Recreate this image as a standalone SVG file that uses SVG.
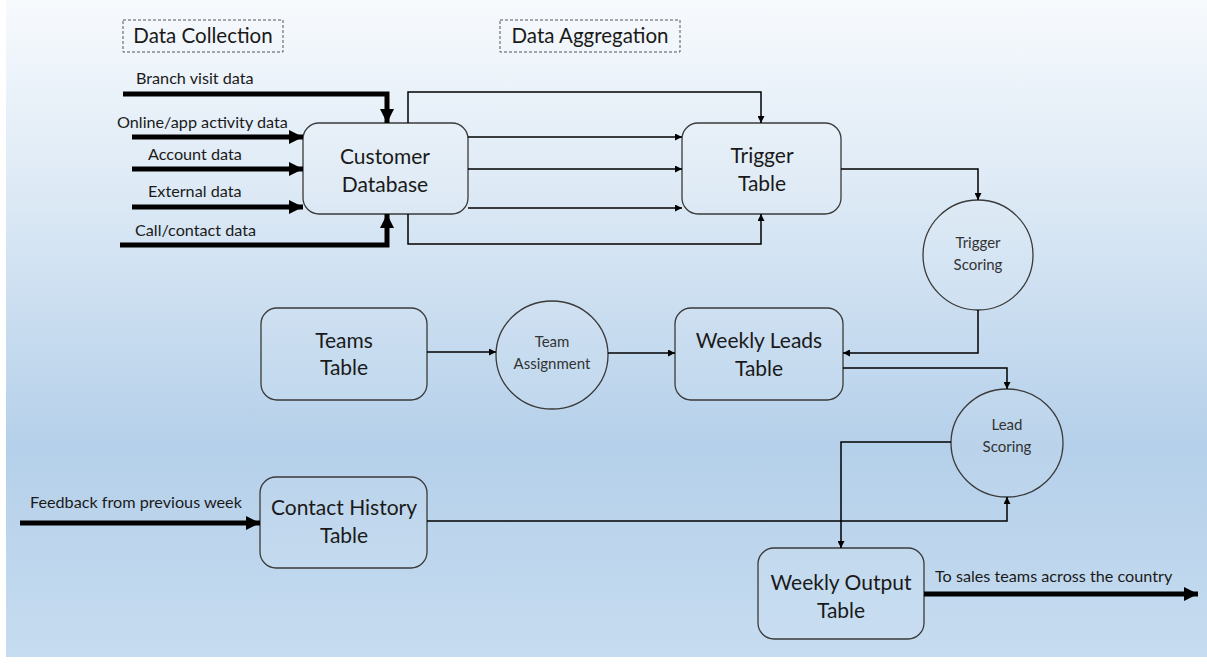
<svg xmlns="http://www.w3.org/2000/svg" width="1207" height="664" viewBox="0 0 1207 664">
<defs>
<linearGradient id="bg" x1="0" y1="0" x2="0" y2="1">
<stop offset="0" stop-color="#f7fafd"/>
<stop offset="0.3" stop-color="#dce9f5"/>
<stop offset="0.68" stop-color="#b5d0ea"/>
<stop offset="1" stop-color="#c6dcf0"/>
</linearGradient>
<marker id="a" viewBox="0 0 10 10" refX="10" refY="5" markerWidth="7" markerHeight="7" markerUnits="userSpaceOnUse" orient="auto"><path d="M0,0 L10,5 L0,10 z" fill="#000"/></marker>
<marker id="A" viewBox="0 0 10 10" refX="10" refY="5" markerWidth="14" markerHeight="14" markerUnits="userSpaceOnUse" orient="auto"><path d="M0,0 L10,5 L0,10 z" fill="#000"/></marker>
<style>
.box{fill:#ffffff;fill-opacity:0.08;stroke:#3a3a3a;stroke-width:1.3}
.lbl{fill:none;stroke:#555;stroke-width:1;stroke-dasharray:3 2}
.t{font-family:Lato,"Open Sans",sans-serif;fill:#1a1a1a;text-anchor:middle}
.big{font-size:21px}
.hdr{font-size:20.5px}
.mid{font-size:15px;fill:#333}
.sm{font-family:Lato,"Open Sans",sans-serif;font-size:16.2px;fill:#1a1a1a}
.thin{fill:none;stroke:#000;stroke-width:1.5;marker-end:url(#a)}
.thick{fill:none;stroke:#000;stroke-width:5;marker-end:url(#A)}
</style>
</defs>
<rect x="0" y="0" width="1207" height="664" fill="#ffffff"/>
<rect x="6" y="0" width="1201" height="657" fill="url(#bg)"/>

<g id="label-collection"><rect class="lbl" x="123" y="20" width="160" height="32"/><text class="t hdr" x="203" y="43">Data Collection</text></g>
<g id="label-aggregation"><rect class="lbl" x="500" y="20" width="180" height="32"/><text class="t hdr" x="590" y="43">Data Aggregation</text></g>

<g id="customer-db"><rect class="box" x="303" y="123" width="165" height="91" rx="16"/><text class="t big" x="385" y="164">Customer</text><text class="t big" x="385" y="192">Database</text></g>
<g id="trigger-table"><rect class="box" x="682" y="123" width="159" height="91" rx="16"/><text class="t big" x="762" y="163">Trigger</text><text class="t big" x="762" y="191">Table</text></g>
<g id="trigger-scoring"><circle class="box" cx="978" cy="255" r="55"/><text class="t mid" x="978" y="248">Trigger</text><text class="t mid" x="978" y="270">Scoring</text></g>
<g id="teams-table"><rect class="box" x="261" y="308" width="166" height="92" rx="16"/><text class="t big" x="344" y="348">Teams</text><text class="t big" x="344" y="375">Table</text></g>
<g id="team-assignment"><ellipse class="box" cx="552" cy="355" rx="56" ry="54"/><text class="t mid" x="552" y="347">Team</text><text class="t mid" x="552" y="369">Assignment</text></g>
<g id="weekly-leads"><rect class="box" x="675" y="308" width="168" height="92" rx="16"/><text class="t big" x="759" y="348">Weekly Leads</text><text class="t big" x="759" y="376">Table</text></g>
<g id="lead-scoring"><ellipse class="box" cx="1007" cy="443" rx="56" ry="54"/><text class="t mid" x="1007" y="430">Lead</text><text class="t mid" x="1007" y="452">Scoring</text></g>
<g id="contact-history"><rect class="box" x="260" y="477" width="167" height="91" rx="16"/><text class="t big" x="344" y="515">Contact History</text><text class="t big" x="344" y="543">Table</text></g>
<g id="weekly-output"><rect class="box" x="758" y="548" width="166" height="91" rx="16"/><text class="t big" x="841" y="590">Weekly Output</text><text class="t big" x="841" y="618">Table</text></g>

<g id="connectors">
<path class="thick" d="M123,94 H387 V123"/>
<path class="thick" d="M132,137 H303"/>
<path class="thick" d="M132,169 H303"/>
<path class="thick" d="M132,207 H303"/>
<path class="thick" d="M120,245 H387 V214"/>
<path class="thin" d="M408,123 V92 H761 V123"/>
<path class="thin" d="M468,137 H682"/>
<path class="thin" d="M468,169 H682"/>
<path class="thin" d="M468,208 H682"/>
<path class="thin" d="M408,214 V244 H761 V214"/>
<path class="thin" d="M841,169 H978 V200"/>
<path class="thin" d="M978,310 V353 H843"/>
<path class="thin" d="M427,352 H496"/>
<path class="thin" d="M608,353 H675"/>
<path class="thin" d="M843,368 H1007 V389"/>
<path class="thin" d="M951,442 H841 V548"/>
<path class="thin" d="M427,521 H1007 V497"/>
<path class="thick" d="M20,523 H260"/>
<path class="thick" d="M924,594 H1198"/>
</g>

<g id="texts">
<text class="sm" x="136" y="84">Branch visit data</text>
<text class="sm" x="117" y="128">Online/app activity data</text>
<text class="sm" x="148" y="160">Account data</text>
<text class="sm" x="148" y="197">External data</text>
<text class="sm" x="135" y="236">Call/contact data</text>
<text class="sm" x="30" y="508">Feedback from previous week</text>
<text class="sm" x="935" y="582">To sales teams across the country</text>
</g>
</svg>
